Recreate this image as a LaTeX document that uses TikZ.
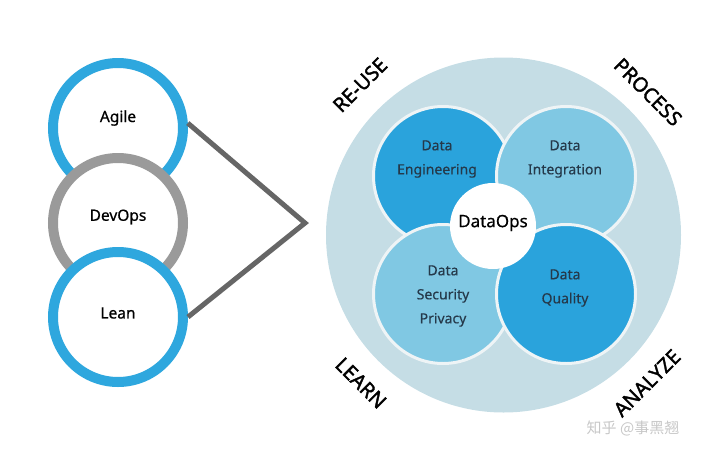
\documentclass[tikz,border=0pt]{standalone}
\usepackage{fontspec}
\setmainfont{Noto Sans}
\newfontface\mediumface{Noto Sans}[FakeBold=0.7]
\newfontface\semiface{Noto Sans}[FakeBold=0.4]
\newfontface\heavyface{Noto Sans}[FakeBold=1.8]
\newfontfamily\cjk{Noto Sans CJK SC}
\definecolor{ringblue}{HTML}{2EA7DE}
\definecolor{ringgray}{HTML}{9A9A9A}
\definecolor{halo}{HTML}{C5DDE5}
\definecolor{deepblue}{HTML}{2AA3DC}
\definecolor{paleblue}{HTML}{80C8E3}
\definecolor{inktxt}{HTML}{25394A}
\definecolor{linkgray}{HTML}{666666}
\definecolor{rimwhite}{HTML}{EEF4F6}
\begin{document}
\begin{tikzpicture}[x=1pt,y=-1pt,
  ring/.style={circle,fill=white,draw=#1,line width=10pt,minimum size=130pt,inner sep=0pt},
  ringlabel/.style={font=\mediumface\fontsize{15.5}{18}\selectfont,text=black},
  petal/.style={circle,fill=#1,draw=rimwhite,line width=3pt,minimum size=139pt,inner sep=0pt},
  petallabel/.style={align=center,text=inktxt,font=\semiface\fontsize{14}{24}\selectfont},
  corner/.style={font=\heavyface\fontsize{20}{24}\selectfont,text=black},
  link/.style={draw=linkgray,line width=5pt,line join=miter}
]
\useasboundingbox (0,0) rectangle (720,461);

% three practices on the left
\node[ring=ringblue] (agile) at (118,128) {};
\node[ring=ringgray] (devops) at (118,223) {};
\node[ring=ringblue] (lean) at (118,317) {};
\node[ringlabel] (agiletxt) at (118,118) {Agile};
\node[ringlabel] (devopstxt) at (118,217) {DevOps};
\node[ringlabel] (leantxt) at (118,313) {Lean};

% bracket joining them to the DataOps wheel
\coordinate (apex) at (305,223);
\path[link] (agile.4) -- (apex) -- (lean.east);

% the DataOps wheel
\node[circle,fill=halo,minimum size=355pt,inner sep=0pt] (wheel) at (503.5,235) {};
\node[petal=deepblue] (eng) at (443,176) {};
\node[petal=paleblue] (integ) at (566,176) {};
\node[petal=paleblue] (priv) at (443,294) {};
\node[petal=deepblue] (qual) at (566,294) {};
\node[circle,fill=white,minimum size=86pt,inner sep=0pt] (core) at (493,226) {};

\node[petallabel] (engtxt) at (437,159) {Data\\Engineering};
\node[petallabel] (integtxt) at (565,159) {Data\\Integration};
\node[petallabel] (privtxt) at (443,296) {Data\\Security\\Privacy};
\node[petallabel] (qualtxt) at (565,288) {Data\\Quality};
\node[font=\semiface\fontsize{17}{20}\selectfont,text=black] (coretxt) at (493,223) {DataOps};

% cycle words around the wheel
\node[corner,rotate=45] (reuse) at (360,85) {RE-USE};
\node[corner,rotate=-45] (process) at (648,92) {PROCESS};
\node[corner,rotate=-45] (learn) at (361,383) {LEARN};
\node[corner,rotate=45] (analyze) at (647,383) {ANALYZE};

% source mark
\node[font=\cjk\fontsize{15}{18}\selectfont,text=black!22] (mark) at (633,428) {知乎 @事黑翘};
\end{tikzpicture}
\end{document}
